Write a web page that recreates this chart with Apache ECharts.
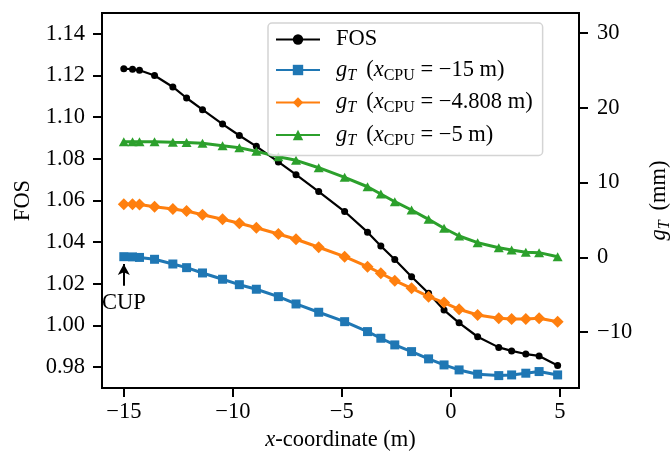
<!DOCTYPE html>
<html>
<head>
<meta charset="utf-8">
<script src="https://cdn.jsdelivr.net/npm/echarts@6/dist/echarts.min.js"></script>
<style>html,body{margin:0;padding:0;background:#fff;}#c{width:670px;height:456px;}</style>
</head>
<body>
<div id="c"></div>
<script>
// ---- data ----
const xCoord = [-15.0, -14.6, -14.28, -13.59, -12.75, -12.12, -11.39, -10.47, -9.70, -8.92, -7.91, -7.10, -6.06, -4.87, -3.82, -3.21, -2.57, -1.80, -1.02, -0.31, 0.38, 1.23, 2.20, 2.79, 3.44, 4.05, 4.90];
const fos = [1.1233, 1.1230, 1.1225, 1.1200, 1.1145, 1.1092, 1.1036, 1.0967, 1.0912, 1.0860, 1.0785, 1.0724, 1.0643, 1.0547, 1.0448, 1.0382, 1.0317, 1.0234, 1.0155, 1.0074, 1.0013, 0.9946, 0.9895, 0.9878, 0.9863, 0.9854, 0.9808];
const gT_m15 = [0.08, 0.05, -0.02, -0.27, -0.90, -1.39, -2.10, -2.94, -3.67, -4.28, -5.27, -6.25, -7.36, -8.62, -9.95, -10.84, -11.73, -12.63, -13.60, -14.41, -15.08, -15.65, -15.84, -15.75, -15.52, -15.30, -15.75];
const gT_m4808 = [7.09, 7.09, 7.05, 6.77, 6.46, 6.19, 5.70, 5.08, 4.55, 3.96, 3.12, 2.41, 1.34, 0.08, -1.26, -2.14, -3.13, -4.15, -5.27, -6.07, -6.96, -7.72, -8.16, -8.25, -8.25, -8.16, -8.62];
const gT_m5 = [15.47, 15.47, 15.45, 15.47, 15.40, 15.35, 15.25, 14.93, 14.66, 14.18, 13.46, 12.98, 11.99, 10.70, 9.44, 8.47, 7.44, 6.33, 5.08, 3.88, 2.85, 1.95, 1.28, 0.98, 0.67, 0.62, 0.08];
const xTicks = [-15, -10, -5, 0, 5];
const fosTicks = [0.98, 1.00, 1.02, 1.04, 1.06, 1.08, 1.10, 1.12, 1.14];
const gTicks = [-10, 0, 10, 20, 30];
const seriesNames = ['FOS', 'gT_m15', 'gT_m4808', 'gT_m5'];
const legendLabels = {
  'FOS': '{sp| }{n|FOS}',
  'gT_m15': '{sp| }{i|g}{s|T}{g| }{n|(}{i|x}{r|CPU}{n| = −15 m)}',
  'gT_m4808': '{sp| }{i|g}{s|T}{g| }{n|(}{i|x}{r|CPU}{n| = −4.808 m)}',
  'gT_m5': '{sp| }{i|g}{s|T}{g| }{n|(}{i|x}{r|CPU}{n| = −5 m)}'
};
// annotation (data coords on the g_T axis)
const cupX = -15, cupArrowFrom = -3.8, cupArrowTo = -0.9, cupTextY = -6.2;

// ---- chart ----
const FF = '"Liberation Serif", "Times New Roman", serif';
const FS = 22.5;
const LH = 27;
const rich = {
  sp: {fontFamily: FF, fontSize: FS, width: 11, lineHeight: LH},
  g: {fontFamily: FF, fontSize: FS, width: 10, lineHeight: LH},
  n: {fontFamily: FF, fontSize: FS, color: '#000', lineHeight: LH},
  i: {fontFamily: FF, fontSize: FS, fontStyle: 'italic', color: '#000', lineHeight: LH},
  s: {fontFamily: FF, fontSize: 16, fontStyle: 'italic', color: '#000', lineHeight: 14, verticalAlign: 'bottom'},
  r: {fontFamily: FF, fontSize: 16, color: '#000', lineHeight: 14, verticalAlign: 'bottom'}
};
const minus = v => (v < 0 ? '−' + Math.abs(v) : String(v));
const axisCommon = {
  axisLine: {show: true, onZero: false, lineStyle: {color: '#000', width: 2}},
  axisTick: {show: true, inside: false, length: 9, lineStyle: {color: '#000', width: 2}},
  splitLine: {show: false},
};
const chart = echarts.init(document.getElementById('c'), null, {renderer: 'canvas'});
function pairs(ys) { return xCoord.map((x, k) => [x, ys[k]]); }
const option = {
  animation: false,
  backgroundColor: '#fff',
  grid: {left: 102, right: 91, top: 13, bottom: 68, show: true, borderColor: '#000', borderWidth: 2,
    backgroundColor: 'transparent', containLabel: false, outerBoundsMode: 'none'},
  legend: {
    orient: 'vertical', left: 268, top: 23,
    padding: [5, 10, 7, 7],
    itemWidth: 44, itemHeight: 13, itemGap: 7.5,
    backgroundColor: 'rgba(255,255,255,0.8)', borderColor: '#d4d4d4', borderWidth: 1.5, borderRadius: 4,
    data: seriesNames,
    formatter: name => legendLabels[name],
    textStyle: {fontFamily: FF, fontSize: FS, color: '#000', rich: rich}
  },
  xAxis: Object.assign({}, axisCommon, {
    type: 'value', min: -16, max: 5.88,
    axisTick: Object.assign({}, axisCommon.axisTick, {customValues: xTicks}),
    axisLabel: {customValues: xTicks, formatter: minus, fontFamily: FF, fontSize: FS, color: '#000', margin: 13},
    name: '{i|x}{n|-coordinate (m)}', nameLocation: 'middle', nameGap: 36,
    nameTextStyle: {rich: rich}
  }),
  yAxis: [
    Object.assign({}, axisCommon, {
      type: 'value', min: 0.97, max: 1.15, position: 'left',
      axisTick: Object.assign({}, axisCommon.axisTick, {customValues: fosTicks}),
      axisLabel: {customValues: fosTicks, formatter: v => v.toFixed(2), fontFamily: FF, fontSize: FS, color: '#000', margin: 17},
      name: 'FOS', nameLocation: 'middle', nameGap: 64, nameRotate: 90,
      nameTextStyle: {fontFamily: FF, fontSize: FS, color: '#000'}
    }),
    Object.assign({}, axisCommon, {
      type: 'value', min: -17.5, max: 32.7, position: 'right',
      axisTick: Object.assign({}, axisCommon.axisTick, {customValues: gTicks}),
      axisLabel: {customValues: gTicks, formatter: minus, fontFamily: FF, fontSize: FS, color: '#000', margin: 18},
      name: '{i|g}{s|T}{g| }{n|(mm)}', nameLocation: 'middle', nameGap: 67, nameRotate: 90,
      nameTextStyle: {rich: rich}
    })
  ],
  series: [
    {name: 'FOS', type: 'line', yAxisIndex: 0, data: pairs(fos), symbol: 'circle', symbolSize: 7,
      showAllSymbol: true, color: '#000', lineStyle: {width: 2.2, color: '#000'}, itemStyle: {color: '#000'}},
    {name: 'gT_m15', type: 'line', yAxisIndex: 1, data: pairs(gT_m15), symbol: 'rect', symbolSize: 9,
      showAllSymbol: true, color: '#1f77b4', lineStyle: {width: 3}, itemStyle: {color: '#1f77b4'},
      markLine: {
        silent: true, animation: false,
        symbol: ['none', 'arrow'], symbolSize: [9, 11],
        lineStyle: {color: '#000', width: 2, type: 'solid'},
        label: {show: false},
        data: [[{coord: [cupX, cupArrowFrom]}, {coord: [cupX, cupArrowTo]}]]
      },
      markPoint: {
        silent: true, animation: false,
        symbol: 'circle', symbolSize: 1, itemStyle: {color: 'rgba(0,0,0,0)'},
        label: {show: true, position: 'inside', formatter: 'CUP', fontFamily: FF, fontSize: FS, color: '#000'},
        data: [{coord: [cupX, cupTextY]}]
      }
    },
    {name: 'gT_m4808', type: 'line', yAxisIndex: 1, data: pairs(gT_m4808), symbol: 'diamond', symbolSize: [12, 12],
      showAllSymbol: true, color: '#ff7f0e', lineStyle: {width: 3}, itemStyle: {color: '#ff7f0e'}},
    {name: 'gT_m5', type: 'line', yAxisIndex: 1, data: pairs(gT_m5), symbol: 'triangle', symbolSize: [10, 9],
      showAllSymbol: true, color: '#2ca02c', lineStyle: {width: 3}, itemStyle: {color: '#2ca02c'}}
  ]
};
chart.setOption(option);
</script>
</body>
</html>
